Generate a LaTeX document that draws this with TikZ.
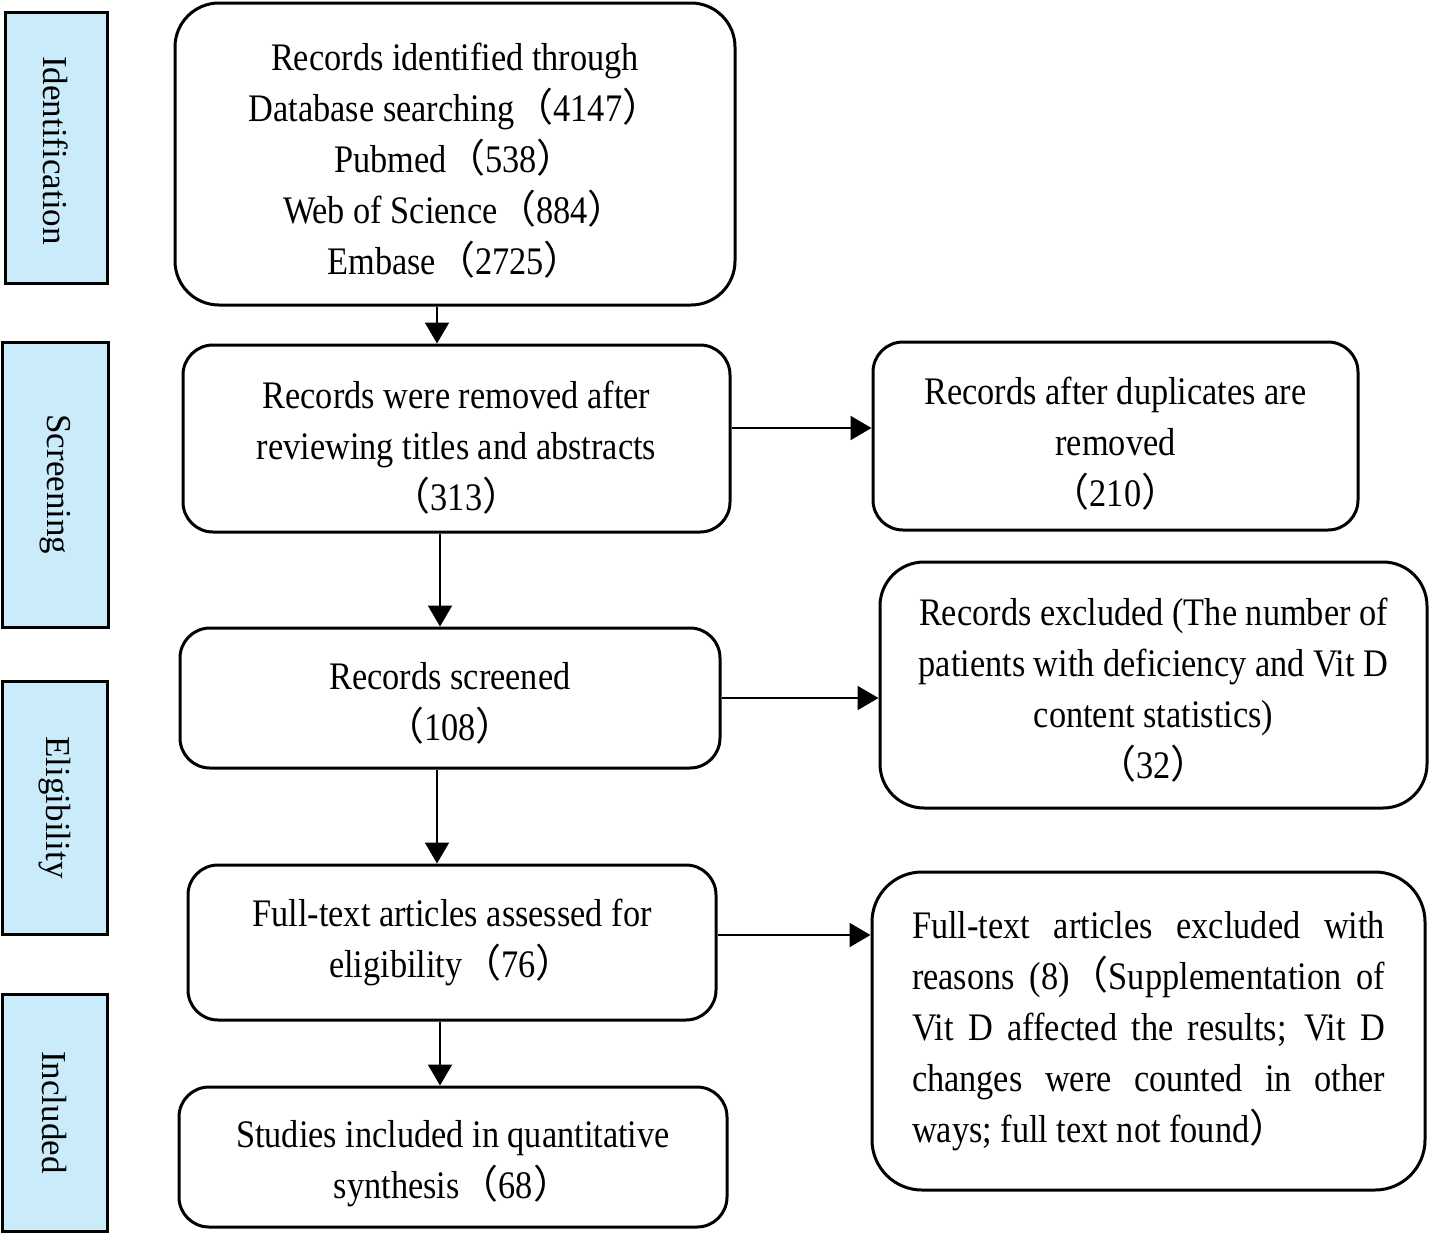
\documentclass[tikz,border=0pt]{standalone}
\usepackage{fontspec}
\setmainfont{Liberation Serif}[FakeStretch=0.88]
\newfontfamily\labfont{Liberation Serif}
\newfontfamily\cjkfont{Noto Sans CJK SC}
\newcommand\flp{{\cjkfont （}}
\newcommand\frp{{\cjkfont ）}}
\usetikzlibrary{arrows.meta,calc}
\definecolor{labblue}{RGB}{202,236,250}
\tikzset{
  box/.style={draw=black, line width=1.5pt, rounded corners=15pt, inner sep=0pt},
  boxtext/.style={align=center, inner sep=0pt, font=\fontsize{19.5pt}{25.5pt}\selectfont},
  stage/.style={draw=black, line width=1.5pt, fill=labblue},
  stagetext/.style={rotate=-90, font=\labfont\fontsize{17.5pt}{20pt}\selectfont},
  arr/.style={line width=1pt, -{Triangle[length=10.5pt,width=12pt]}}
}
\begin{document}
\begin{tikzpicture}[x=0.5pt,y=-0.5pt]
\useasboundingbox (0,0) rectangle (1429,1242);
% stage labels
\node[stage, minimum width=51pt, minimum height=135.5pt] (s1) at (56,147.5) {};
\node[stagetext] (s1t) at ([yshift=-1.5pt]s1.center) {Identification};
\node[stage, minimum width=53pt, minimum height=142.5pt] (s2) at (55,484.5) {};
\node[stagetext] (s2t) at (s2.center) {Screening};
\node[stage, minimum width=52.5pt, minimum height=126.5pt] (s3) at (54.5,807.5) {};
\node[stagetext] (s3t) at (s3.center) {Eligibility};
\node[stage, minimum width=52.5pt, minimum height=118.5pt] (s4) at (54.5,1112.5) {};
\node[stagetext] (s4t) at (s4.center) {Included};
% main column boxes
\node[box, rounded corners=22pt, minimum width=280pt, minimum height=151pt] (b1) at (455,154) {};
\node[box, minimum width=273.5pt, minimum height=93.5pt] (b2) at (456.5,438.5) {};
\node[box, minimum width=270pt, minimum height=70pt] (b3) at (450,698) {};
\node[box, minimum width=264pt, minimum height=77.5pt] (b4) at (452,942.5) {};
\node[box, minimum width=274pt, minimum height=70pt] (b5) at (453,1157) {};
% right column boxes
\node[box, minimum width=242.5pt, minimum height=94pt] (ra) at (1115.5,436) {};
\node[box, rounded corners=22pt, minimum width=273.5pt, minimum height=123pt] (rb) at (1153.5,685) {};
\node[box, rounded corners=25pt, minimum width=276.5pt, minimum height=159pt] (rc) at (1148.5,1031) {};
% texts
\node[boxtext] (b1t) at ([yshift=-3.5pt]b1.center)
  {Records identified through\\ Database searching\flp 4147\frp\\ Pubmed\flp 538\frp\\ Web of Science\flp 884\frp\\ Embase\flp 2725\frp};
\node[boxtext] (b2t) at ([yshift=-4.5pt]b2.center)
  {Records were removed after\\ reviewing titles and abstracts\\ \flp 313\frp};
\node[boxtext] (b3t) at ([yshift=-2.5pt]b3.center)
  {Records screened\\ \flp 108\frp};
\node[boxtext] (b4t) at (b4.center)
  {Full-text articles assessed for\\ eligibility\flp 76\frp};
\node[boxtext] (b5t) at ([yshift=-3.5pt]b5.center)
  {Studies included in quantitative\\ synthesis\flp 68\frp};
\node[boxtext] (rat) at ([yshift=-4pt]ra.center)
  {Records after duplicates are\\ removed\\ \flp 210\frp};
\node[boxtext] (rbt) at ([yshift=-2.5pt]rb.center)
  {Records excluded (The number of\\ patients with deficiency and Vit D\\ content statistics)\\ \flp 32\frp};
\node[boxtext, align=justify, text width=236.5pt] (rct) at (rc.center)
  {Full-text articles excluded with\linebreak reasons (8)\flp Supplementation of\linebreak Vit D affected the results; Vit D\linebreak changes were counted in other\linebreak ways; full text not found\frp};
% arrows
\draw[arr] ([xshift=-9pt]b1.south) -- ([xshift=-9pt]b1.south |- b2.north);
\draw[arr] ([xshift=-8.25pt]b2.south) -- ([xshift=-8.25pt]b2.south |- b3.north);
\draw[arr] ([xshift=-6.5pt]b3.south) -- ([xshift=-6.5pt]b3.south |- b4.north);
\draw[arr] ([xshift=-6pt]b4.south) -- ([xshift=-6pt]b4.south |- b5.north);
\draw[arr] ([yshift=5.25pt]b2.east) -- ([yshift=5.25pt]b2.east -| ra.west);
\draw[arr] (b3.east) -- (b3.east -| rb.west);
\draw[arr] ([yshift=3.75pt]b4.east) -- ([yshift=3.75pt]b4.east -| rc.west);
\end{tikzpicture}
\end{document}
